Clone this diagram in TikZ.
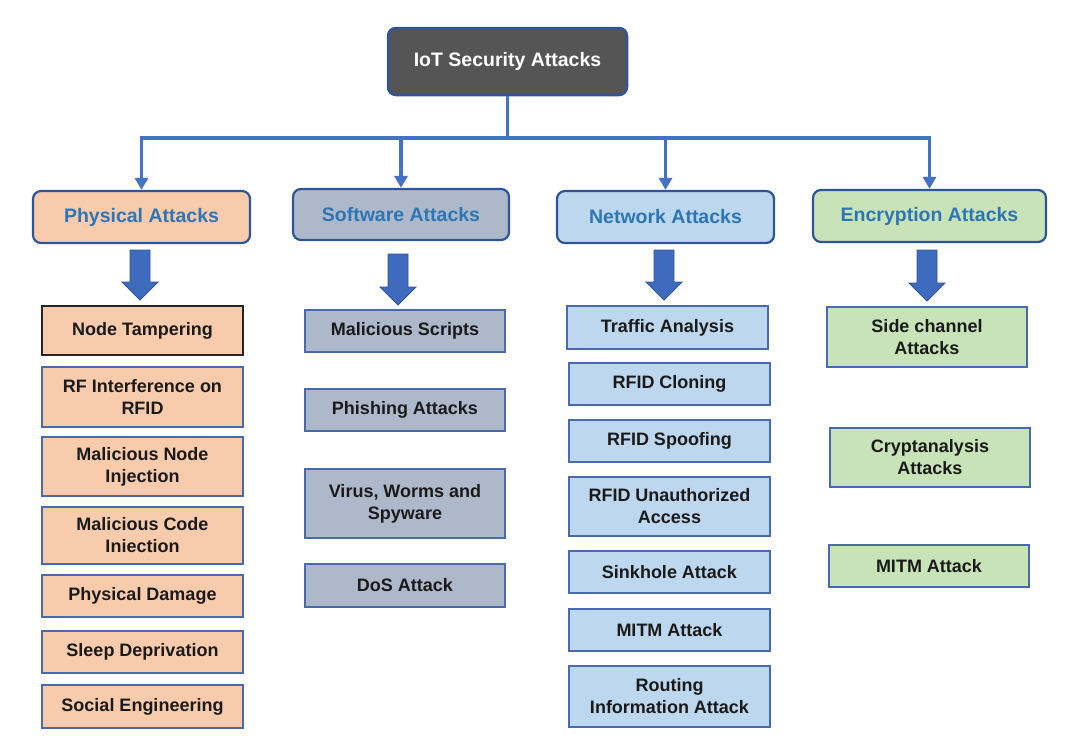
\documentclass[tikz,border=0pt]{standalone}
\usepackage{fontspec}
\setmainfont{Liberation Sans}
\usetikzlibrary{arrows.meta,calc}
\definecolor{topfill}{HTML}{555555}
\definecolor{edgeblue}{HTML}{2F5597}
\definecolor{lineblue}{HTML}{4472C4}
\definecolor{blockblue}{HTML}{3F6BBF}
\definecolor{catblue}{HTML}{2E75B6}
\definecolor{peach}{HTML}{F8CBAD}
\definecolor{swgray}{HTML}{ADB9CA}
\definecolor{netblue}{HTML}{BDD7EE}
\definecolor{encgreen}{HTML}{C9E3B8}
\definecolor{itemedge}{HTML}{4A6AAE}
\definecolor{itemtext}{HTML}{1A1A1A}
\newcommand{\blockarr}[2]{%
  \filldraw[fill=blockblue, draw=edgeblue, line width=0.8pt, line join=miter]
    ($(#1)+(-10,0)$) -- ($(#1)+(10,0)$) -- ($(#1)+(10,#2-18)$) -- ($(#1)+(18,#2-18)$)
    -- ($(#1)+(0,#2)$) -- ($(#1)+(-18,#2-18)$) -- ($(#1)+(-10,#2-18)$) -- cycle;}
\begin{document}
\begin{tikzpicture}[x=1pt,y=-1pt,
  topbox/.style={draw=edgeblue, line width=2.5pt, fill=topfill, rounded corners=8pt,
    text=white, font=\fontsize{19.5}{23}\selectfont\bfseries, inner sep=0pt},
  catbox/.style={draw=edgeblue, line width=2.2pt, rounded corners=8pt,
    text=catblue, font=\fontsize{19.5}{23}\selectfont\bfseries, inner sep=0pt},
  item/.style={draw=itemedge, line width=2pt, text=itemtext, align=center,
    font=\fontsize{18}{22}\selectfont\bfseries, inner sep=0pt},
  conn/.style={draw=lineblue, line width=3.2pt},
  connarr/.style={conn, -{Triangle[length=12pt,width=13pt]}}
]
\useasboundingbox (0,0) rectangle (1080,753);

% top
\node[topbox, minimum width=239, minimum height=67] (top) at (507.5,61.5) {IoT Security Attacks};

% categories
\node[catbox, fill=peach,    minimum width=217, minimum height=52] (c1) at (141.5,217) {Physical Attacks};
\node[catbox, fill=swgray,   minimum width=216, minimum height=51] (c2) at (401,214.5) {Software Attacks};
\node[catbox, fill=netblue,  minimum width=217, minimum height=52] (c3) at (665.5,217) {Network Attacks};
\node[catbox, fill=encgreen, minimum width=233, minimum height=52] (c4) at (929.5,216) {Encryption Attacks};

% connectors
\coordinate (bus) at (507.5,138);
\draw[conn] (top.south) -- (bus);
\draw[conn, line cap=rect] (bus-|c1.north) -- (bus-|c4.north);
\draw[connarr] (bus-|c1.north) -- (c1.north);
\draw[connarr] (bus-|c2.north) -- (c2.north);
\draw[connarr] (bus-|c3.north) -- (c3.north);
\draw[connarr] (bus-|c4.north) -- (c4.north);

% block arrows
\coordinate (a1) at (140,250);
\coordinate (a2) at (398,254);
\coordinate (a3) at (664,250);
\coordinate (a4) at (927,250);
\blockarr{a1}{50}
\blockarr{a2}{51}
\blockarr{a3}{50}
\blockarr{a4}{51}

% physical
\node[item, fill=peach, draw=black!85, minimum width=201, minimum height=49] (p1) at (142.5,330.5) {Node Tampering};
\node[item, fill=peach, minimum width=201, minimum height=60] (p2) at (142.5,397) {RF Interference on\\RFID};
\node[item, fill=peach, minimum width=201, minimum height=59] (p3) at (142.5,466.5) {Malicious Node\\Injection};
\node[item, fill=peach, minimum width=201, minimum height=57] (p4) at (142.5,535.5) {Malicious Code\\Iniection};
\node[item, fill=peach, minimum width=201, minimum height=42] (p5) at (142.5,596) {Physical Damage};
\node[item, fill=peach, minimum width=201, minimum height=42] (p6) at (142.5,652) {Sleep Deprivation};
\node[item, fill=peach, minimum width=201, minimum height=43] (p7) at (142.5,706.5) {Social Engineering};

% software
\node[item, fill=swgray, minimum width=200, minimum height=42] (s1) at (405,331) {Malicious Scripts};
\node[item, fill=swgray, minimum width=200, minimum height=42] (s2) at (405,410) {Phishing Attacks};
\node[item, fill=swgray, minimum width=200, minimum height=69] (s3) at (405,503.5) {Virus, Worms and\\Spyware};
\node[item, fill=swgray, minimum width=200, minimum height=43] (s4) at (405,585.5) {DoS Attack};

% network
\node[item, fill=netblue, minimum width=201, minimum height=43] (t1) at (667.5,327.5) {Traffic Analysis};
\node[item, fill=netblue, minimum width=201, minimum height=42] (t2) at (669.5,384) {RFID Cloning};
\node[item, fill=netblue, minimum width=201, minimum height=42] (t3) at (669.5,441) {RFID Spoofing};
\node[item, fill=netblue, minimum width=201, minimum height=59] (t4) at (669.5,506.5) {RFID Unauthorized\\Access};
\node[item, fill=netblue, minimum width=201, minimum height=42] (t5) at (669.5,572) {Sinkhole Attack};
\node[item, fill=netblue, minimum width=201, minimum height=42] (t6) at (669.5,630) {MITM Attack};
\node[item, fill=netblue, minimum width=201, minimum height=61] (t7) at (669.5,696.5) {Routing\\Information Attack};

% encryption
\node[item, fill=encgreen, minimum width=200, minimum height=60] (e1) at (927,337) {Side channel\\Attacks};
\node[item, fill=encgreen, minimum width=200, minimum height=59] (e2) at (930,457.5) {Cryptanalysis\\Attacks};
\node[item, fill=encgreen, minimum width=200, minimum height=42] (e3) at (929,566) {MITM Attack};
\end{tikzpicture}
\end{document}
